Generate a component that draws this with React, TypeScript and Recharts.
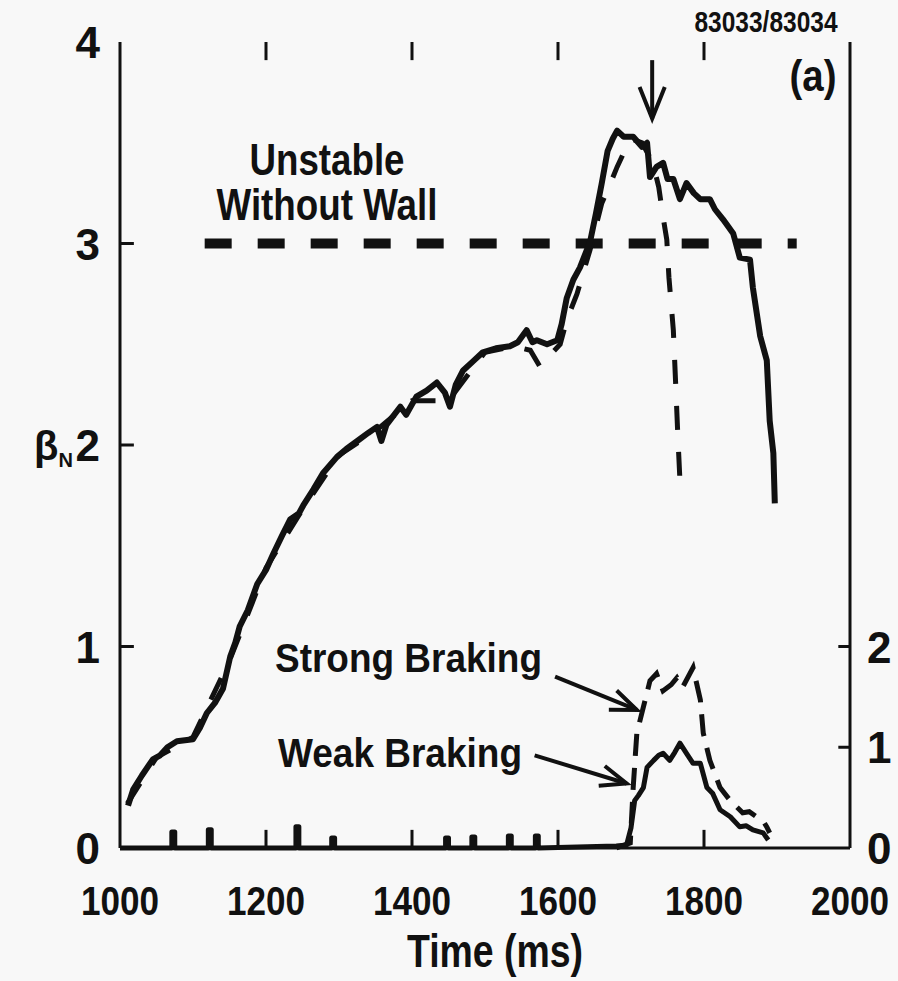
import { LineChart, Line, XAxis, YAxis, ReferenceLine } from 'recharts';

// axis ticks
const timeTicks = [1000, 1200, 1400, 1600, 1800, 2000];
const betaTicks = [0, 1, 2, 3, 4];
const brakeTicks = [0, 1, 2];

// beta_N, weak braking shot (solid)
const weakTime = [
  1011, 1018, 1030, 1045, 1055, 1065, 1078, 1100, 1110, 1119, 1130, 1141, 1151, 1158, 1164, 1175,
  1188, 1200, 1210, 1222, 1233, 1245, 1251, 1265, 1278, 1297, 1310, 1325, 1340, 1352, 1358, 1365,
  1384, 1392, 1406, 1420, 1434, 1445, 1452, 1460, 1470, 1485, 1497, 1515, 1534, 1545, 1557, 1565,
  1571, 1585, 1599, 1605, 1612, 1621, 1630, 1644, 1652, 1660, 1668, 1675, 1681, 1690, 1703, 1715,
  1722, 1726, 1735, 1744, 1750, 1758, 1767, 1776, 1786, 1795, 1808, 1815, 1826, 1840, 1849, 1863,
  1867, 1877, 1886, 1890, 1895, 1897,
];
const weakBeta = [
  0.21, 0.29, 0.36, 0.44, 0.46, 0.5, 0.53, 0.54, 0.6, 0.67, 0.72, 0.79, 0.95, 1.02, 1.1, 1.18,
  1.31, 1.38, 1.46, 1.55, 1.63, 1.66, 1.7, 1.78, 1.86, 1.94, 1.98, 2.02, 2.06, 2.09, 2.02, 2.1,
  2.19, 2.15, 2.24, 2.27, 2.31, 2.26, 2.19, 2.3, 2.37, 2.42, 2.46, 2.48, 2.49, 2.51, 2.57, 2.51,
  2.52, 2.5, 2.52, 2.6, 2.73, 2.82, 2.88, 3.01, 3.15, 3.3, 3.46, 3.52, 3.56, 3.53, 3.53, 3.48,
  3.5, 3.33, 3.38, 3.4, 3.32, 3.32, 3.22, 3.3, 3.25, 3.22, 3.22, 3.17, 3.12, 3.05, 2.93, 2.92,
  2.78, 2.54, 2.42, 2.12, 1.96, 1.71,
];

// beta_N, strong braking shot (dashed)
const strongTime = [
  1010, 1050, 1100, 1150, 1200, 1250, 1300, 1350, 1400, 1450, 1500, 1540, 1562, 1575, 1590, 1603,
  1612, 1626, 1644, 1660, 1672, 1681, 1690, 1700, 1715, 1730, 1738, 1744, 1749, 1752, 1758, 1761,
  1764, 1768,
];
const strongBeta = [
  0.22, 0.45, 0.55, 0.93, 1.39, 1.68, 1.95, 2.07, 2.22, 2.22, 2.46, 2.49, 2.47, 2.39, 2.45, 2.5,
  2.62, 2.75, 2.97, 3.2, 3.3, 3.38, 3.45, 3.52, 3.5, 3.4, 3.28, 3.13, 3.02, 2.83, 2.57, 2.32,
  2.06, 1.75,
];

// no-wall stability limit
const limitTime = [1116, 1927];
const limitBeta = [3, 3];

// braking signal (right axis), weak braking shot
const spikeTime = [1073, 1123, 1243, 1292, 1448, 1484, 1534, 1571];
const spikeHeight = [0.16, 0.18, 0.21, 0.1, 0.1, 0.11, 0.12, 0.12];
const weakBrakeTime = [
  1680, 1694, 1700, 1705, 1710, 1717, 1722, 1731, 1738, 1744, 1753, 1760, 1767, 1776, 1785, 1795,
  1804, 1812, 1822, 1836, 1849, 1858, 1867, 1881, 1888,
];
const weakBrake = [
  0.02, 0.03, 0.2, 0.47, 0.52, 0.6, 0.8, 0.87, 0.92, 0.94, 0.87, 0.95, 1.04, 0.94, 0.84, 0.84,
  0.6, 0.54, 0.38, 0.31, 0.21, 0.22, 0.18, 0.15, 0.08,
];

// braking signal (right axis), strong braking shot
const strongBrakeTime = [
  1680, 1699, 1703, 1708, 1717, 1726, 1735, 1744, 1755, 1763, 1771, 1785, 1795, 1799, 1808, 1822,
  1836, 1853, 1862, 1872, 1880, 1886, 1890,
];
const strongBrake = [
  0, 0.05, 0.6, 1.14, 1.4, 1.66, 1.73, 1.56, 1.62, 1.69, 1.6, 1.79, 1.47, 1.14, 0.87, 0.6,
  0.47, 0.35, 0.36, 0.31, 0.28, 0.21, 0.15,
];

const FONT = '"Liberation Sans Narrow", "Liberation Sans", Arial, sans-serif';
const INK = '#111';

const zip = (ts: number[], vs: number[]) => ts.map((t, i) => ({ t, v: vs[i] }));

// flat baseline with the little noise spikes, then the braking pulse
const weakBrakeData = (() => {
  const pts = [{ t: 1000, v: 0 }];
  spikeTime.forEach((t, i) => {
    pts.push({ t: t - 2, v: 0 }, { t: t - 2, v: spikeHeight[i] }, { t: t + 2, v: spikeHeight[i] }, { t: t + 2, v: 0 });
  });
  return pts.concat(zip(weakBrakeTime, weakBrake));
})();

const arrowShape = (headLen: number) => (props: any) => {
  const { x1, y1, x2, y2 } = props;
  const ang = Math.atan2(y2 - y1, x2 - x1);
  const spread = 0.38;
  const ax = x2 - headLen * Math.cos(ang - spread);
  const ay = y2 - headLen * Math.sin(ang - spread);
  const bx = x2 - headLen * Math.cos(ang + spread);
  const by = y2 - headLen * Math.sin(ang + spread);
  return (
    <g>
      <line x1={x1} y1={y1} x2={x2} y2={y2} stroke={INK} strokeWidth={4} />
      <polyline points={`${ax},${ay} ${x2},${y2} ${bx},${by}`} fill="none" stroke={INK} strokeWidth={4} strokeLinejoin="miter" />
    </g>
  );
};

const bottomTick = ({ x, y, payload }: any) => (
  <text x={x} y={y + 65} textAnchor="middle" fontSize={41} fontWeight="bold" fontFamily={FONT} fill={INK}
    textLength={78} lengthAdjust="spacingAndGlyphs">
    {payload.value}
  </text>
);
const leftTick = ({ x, y, payload }: any) => (
  <text x={x - 18} y={y + 16} textAnchor="end" fontSize={44} fontWeight="bold" fontFamily={FONT} fill={INK}>
    {payload.value}
  </text>
);
const rightTick = ({ x, y, payload }: any) => (
  <text x={x + 15} y={y + 16} textAnchor="start" fontSize={44} fontWeight="bold" fontFamily={FONT} fill={INK}>
    {payload.value}
  </text>
);

const axisLine = { stroke: INK, strokeWidth: 3 };

export default function App() {
  const txt = { fontFamily: FONT, fontWeight: 'bold' as const, fill: INK };
  return (
    <div style={{ position: 'absolute', left: 0, top: 0, width: 898, height: 981, background: '#f8f8f8' }}>
      <LineChart width={898} height={981} margin={{ top: 42, right: 0, bottom: 0, left: 60 }}>
        <XAxis dataKey="t" type="number" domain={[1000, 2000]} ticks={timeTicks} tick={bottomTick}
          tickLine={false} tickSize={0} axisLine={axisLine} height={133} allowDuplicatedCategory={false} />
        <XAxis xAxisId="top" orientation="top" dataKey="t" type="number" domain={[1000, 2000]} height={0}
          tick={false} tickLine={false} axisLine={axisLine} />
        <YAxis yAxisId="L" type="number" domain={[0, 4]} ticks={betaTicks} tick={leftTick}
          tickLine={false} tickSize={0} axisLine={axisLine} width={60} />
        <YAxis yAxisId="R" orientation="right" type="number" domain={[0, 8]} ticks={brakeTicks} tick={rightTick}
          tickLine={false} tickSize={0} axisLine={axisLine} width={48} />

        {/* inward tick marks */}
        {timeTicks.slice(1, -1).map((t) => (
          <ReferenceLine key={`b${t}`} yAxisId="L" segment={[{ x: t, y: 0 }, { x: t, y: 0.09 }]} stroke={INK} strokeWidth={3} />
        ))}
        {timeTicks.slice(1, -1).map((t) => (
          <ReferenceLine key={`t${t}`} yAxisId="L" segment={[{ x: t, y: 4 }, { x: t, y: 3.91 }]} stroke={INK} strokeWidth={3} />
        ))}
        {betaTicks.slice(1, -1).map((b) => (
          <ReferenceLine key={`l${b}`} yAxisId="L" segment={[{ x: 1000, y: b }, { x: 1019, y: b }]} stroke={INK} strokeWidth={3} />
        ))}
        {brakeTicks.slice(1).map((b) => (
          <ReferenceLine key={`r${b}`} yAxisId="R" segment={[{ x: 1984, y: b }, { x: 2000, y: b }]} stroke={INK} strokeWidth={3} />
        ))}

        <Line yAxisId="L" data={zip(limitTime, limitBeta)} dataKey="v" type="linear" stroke={INK} strokeWidth={10}
          strokeDasharray="27 26" dot={false} isAnimationActive={false} />
        <Line yAxisId="L" data={zip(strongTime, strongBeta)} dataKey="v" type="linear" stroke={INK} strokeWidth={5}
          strokeDasharray="24 22" dot={false} isAnimationActive={false} />
        <Line yAxisId="L" data={zip(weakTime, weakBeta)} dataKey="v" type="linear" stroke={INK} strokeWidth={6}
          strokeLinejoin="round" dot={false} isAnimationActive={false} />
        <Line yAxisId="R" data={zip(strongBrakeTime, strongBrake)} dataKey="v" type="linear" stroke={INK} strokeWidth={5}
          strokeDasharray="22 12" dot={false} isAnimationActive={false} />
        <Line yAxisId="R" data={weakBrakeData} dataKey="v" type="linear" stroke={INK} strokeWidth={5}
          strokeLinejoin="round" dot={false} isAnimationActive={false} />

        {/* annotation arrows */}
        <ReferenceLine yAxisId="L" segment={[{ x: 1729, y: 3.91 }, { x: 1729, y: 3.62 }]} shape={arrowShape(34)} />
        <ReferenceLine yAxisId="L" segment={[{ x: 1596, y: 0.85 }, { x: 1708, y: 0.685 }]} shape={arrowShape(28)} />
        <ReferenceLine yAxisId="L" segment={[{ x: 1568, y: 0.46 }, { x: 1694, y: 0.32 }]} shape={arrowShape(28)} />
      </LineChart>

      <svg width={898} height={981} style={{ position: 'absolute', left: 0, top: 0, pointerEvents: 'none' }}>
        <text {...txt} x={766} y={32} fontSize={30} textAnchor="middle" textLength={143} lengthAdjust="spacingAndGlyphs">83033/83034</text>
        <text {...txt} x={813} y={91} fontSize={44} textAnchor="middle" textLength={47} lengthAdjust="spacingAndGlyphs">(a)</text>
        <text {...txt} x={327} y={175} fontSize={44} textAnchor="middle" textLength={155} lengthAdjust="spacingAndGlyphs">Unstable</text>
        <text {...txt} x={327} y={220} fontSize={44} textAnchor="middle" textLength={221} lengthAdjust="spacingAndGlyphs">Without Wall</text>
        <text {...txt} x={275} y={672} fontSize={41} textLength={267} lengthAdjust="spacingAndGlyphs">Strong Braking</text>
        <text {...txt} x={278} y={767} fontSize={41} textLength={244} lengthAdjust="spacingAndGlyphs">Weak Braking</text>
        <text {...txt} x={495} y={967} fontSize={46} textAnchor="middle" textLength={176} lengthAdjust="spacingAndGlyphs">Time (ms)</text>
        <text {...txt} x={34} y={460} fontSize={40}>
          β<tspan fontSize={20} dy={7}>N</tspan>
        </text>
      </svg>
    </div>
  );
}
